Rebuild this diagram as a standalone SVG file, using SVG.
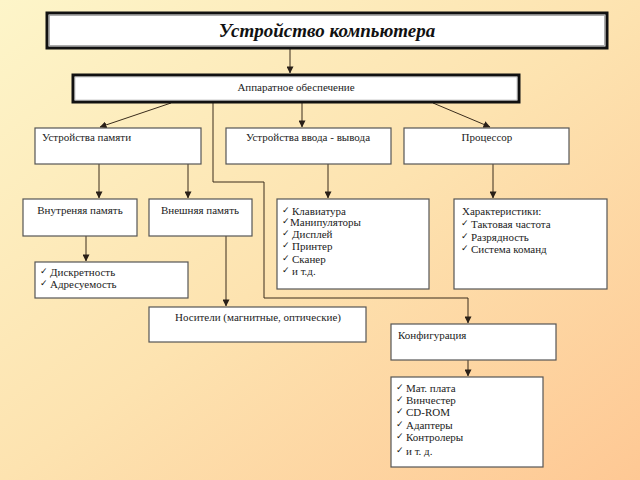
<svg xmlns="http://www.w3.org/2000/svg" width="640" height="480" viewBox="0 0 640 480">
<defs>
<linearGradient id="bg" x1="0" y1="0" x2="1" y2="1">
<stop offset="0" stop-color="#fdf5c9"/>
<stop offset="0.5" stop-color="#fde3b0"/>
<stop offset="1" stop-color="#fec894"/>
</linearGradient>
<marker id="ah" viewBox="0 0 8 8" refX="7.5" refY="4" markerWidth="7" markerHeight="7" markerUnits="userSpaceOnUse" orient="auto">
<path d="M0,0 L8,4 L0,8 Z" fill="#2a2018"/>
</marker>
<style>
.box{fill:#fff;stroke:#555;stroke-width:1.2}
.thick{fill:#fff;stroke:#111;stroke-width:3}
.t{font-family:"Liberation Serif","Times New Roman",serif;font-size:11px;fill:#222}
.c{text-anchor:middle}
.ck{font-family:"DejaVu Sans",sans-serif;font-size:9px;font-weight:bold;fill:#111}
.ln{fill:none;stroke:#3a2c1c;stroke-width:1;marker-end:url(#ah)}
</style>
</defs>
<rect width="640" height="480" fill="url(#bg)"/>

<g id="connectors">
<line class="ln" x1="290" y1="49" x2="290" y2="73"/>
<line class="ln" x1="171" y1="103" x2="100" y2="127"/>
<line class="ln" x1="302" y1="103" x2="302" y2="127"/>
<line class="ln" x1="433" y1="103" x2="490" y2="127"/>
<polyline class="ln" points="213,103 213,182 264,182 264,298 468,298 468,323"/>
<line class="ln" x1="99" y1="164" x2="99" y2="198"/>
<line class="ln" x1="188" y1="164" x2="188" y2="198"/>
<line class="ln" x1="86" y1="236" x2="86" y2="261"/>
<line class="ln" x1="226" y1="236" x2="226" y2="306"/>
<line class="ln" x1="328" y1="164" x2="328" y2="198"/>
<line class="ln" x1="493" y1="164" x2="493" y2="198"/>
<line class="ln" x1="468" y1="360" x2="468" y2="376"/>
</g>

<g id="title">
<rect x="47" y="13" width="560" height="35" fill="#fff" stroke="#111" stroke-width="3"/>
<rect x="49.5" y="15.5" width="555" height="30" fill="none" stroke="#999" stroke-width="0.8"/>
<text x="327" y="37" text-anchor="middle" font-family="Liberation Serif, serif" font-size="19" font-weight="bold" font-style="italic" fill="#111">Устройство компьютера</text>
</g>

<g id="hardware">
<rect x="73" y="75" width="446" height="27" class="thick" stroke-width="2.5"/>
<rect x="75" y="77" width="442" height="23" fill="none" stroke="#aaa" stroke-width="0.6"/>
<text x="296" y="91" class="t c">Аппаратное обеспечение</text>
</g>

<g id="memory">
<rect x="35" y="128" width="166" height="36" class="box"/>
<text x="42" y="141" class="t">Устройства памяти</text>
</g>

<g id="io">
<rect x="226" y="128" width="165" height="36" class="box"/>
<text x="308" y="141" class="t c">Устройства ввода - вывода</text>
</g>

<g id="cpu">
<rect x="404" y="128" width="165" height="36" class="box"/>
<text x="487" y="141" class="t c">Процессор</text>
</g>

<g id="internal">
<rect x="23" y="199" width="114" height="37" class="box"/>
<text x="80" y="214" class="t c">Внутреняя память</text>
</g>

<g id="external">
<rect x="149" y="199" width="103" height="37" class="box"/>
<text x="200" y="214" class="t c">Внешняя память</text>
</g>

<g id="devices">
<rect x="277" y="199" width="152" height="90" class="box"/>
<text x="282" y="213" class="ck">✓</text><text x="292" y="215" class="t">Клавиатура</text>
<text x="282" y="224" class="ck" font-size="7">✓</text><text x="290" y="226" class="t" font-size="8">Манипуляторы</text>
<text x="282" y="236" class="ck">✓</text><text x="292" y="238" class="t">Дисплей</text>
<text x="282" y="248" class="ck">✓</text><text x="292" y="250" class="t">Принтер</text>
<text x="282" y="261" class="ck">✓</text><text x="292" y="263" class="t">Сканер</text>
<text x="282" y="273" class="ck">✓</text><text x="292" y="275" class="t">и т.д.</text>
</g>

<g id="features">
<rect x="454" y="199" width="153" height="90" class="box"/>
<text x="462" y="215" class="t">Характеристики:</text>
<text x="461" y="226" class="ck">✓</text><text x="471" y="228" class="t">Тактовая частота</text>
<text x="461" y="239" class="ck">✓</text><text x="471" y="241" class="t">Разрядность</text>
<text x="461" y="251" class="ck">✓</text><text x="471" y="253" class="t">Система команд</text>
</g>

<g id="discrete">
<rect x="35" y="262" width="153" height="36" class="box"/>
<text x="40" y="274" class="ck">✓</text><text x="50" y="276" class="t">Дискретность</text>
<text x="40" y="286" class="ck">✓</text><text x="50" y="288" class="t">Адресуемость</text>
</g>

<g id="media">
<rect x="149" y="307" width="217" height="35" class="box"/>
<text x="258" y="321" class="t c">Носители (магнитные, оптические)</text>
</g>

<g id="config">
<rect x="391" y="324" width="165" height="36" class="box"/>
<text x="398" y="339" class="t">Конфигурация</text>
</g>

<g id="parts">
<rect x="391" y="377" width="152" height="90" class="box"/>
<text x="396" y="390" class="ck">✓</text><text x="406" y="392" class="t">Мат. плата</text>
<text x="396" y="402" class="ck">✓</text><text x="406" y="404" class="t">Винчестер</text>
<text x="396" y="414" class="ck">✓</text><text x="406" y="416" class="t">CD-ROM</text>
<text x="396" y="427" class="ck">✓</text><text x="406" y="429" class="t">Адаптеры</text>
<text x="396" y="439" class="ck">✓</text><text x="406" y="441" class="t">Контролеры</text>
<text x="396" y="453" class="ck">✓</text><text x="406" y="455" class="t">и т. д.</text>
</g>
</svg>
